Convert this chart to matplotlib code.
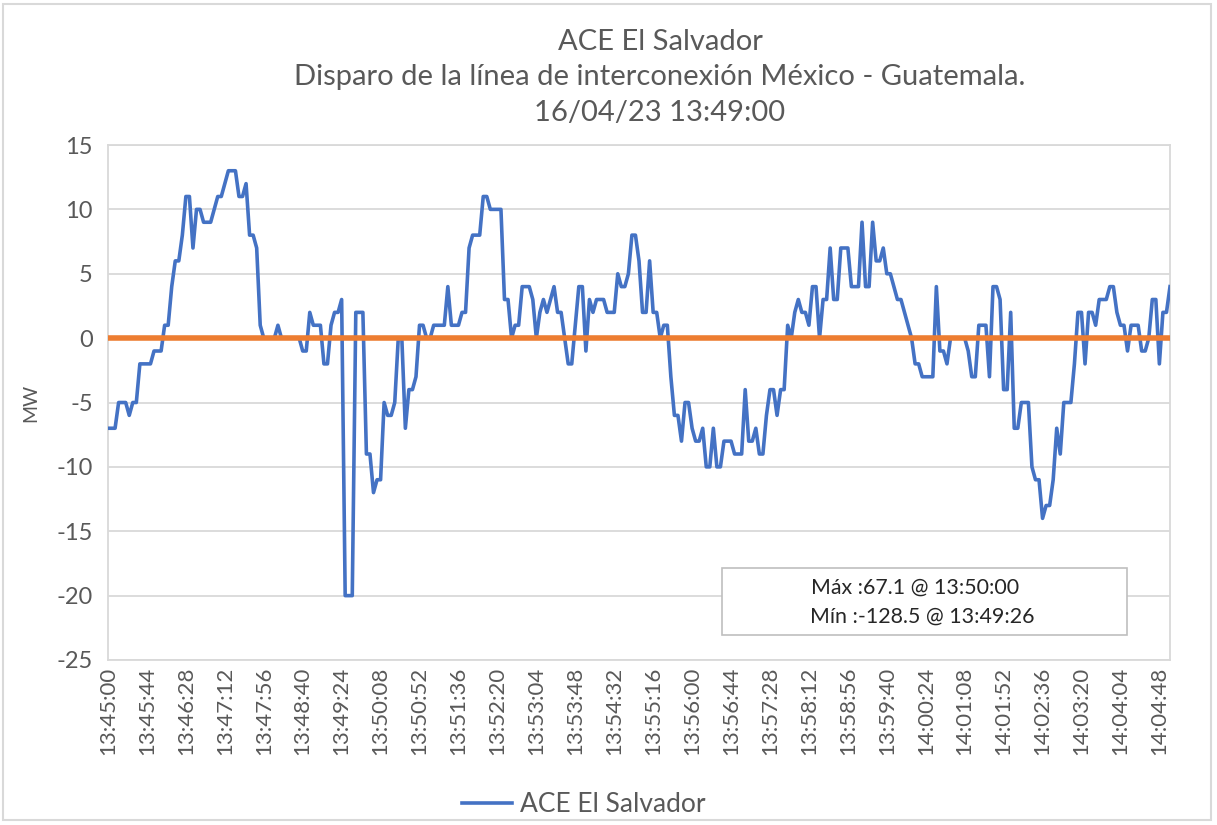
import matplotlib
matplotlib.use("Agg")
import matplotlib.pyplot as plt
from matplotlib.patches import Rectangle
import pandas as pd

plt.rcParams['font.family'] = ['Lato', 'DejaVu Sans']
plt.rcParams['axes.unicode_minus'] = False

# ---- data -------------------------------------------------------------
title_lines = ["ACE El Salvador",
               "Disparo de la línea de interconexión México - Guatemala.",
               "16/04/23 13:49:00"]
series_name = "ACE El Salvador"
y_label = "MW"
stats_text = ["Máx :67.1 @ 13:50:00", "Mín :-128.5 @ 13:49:26"]

# ACE El Salvador, MW, one sample every 4 s from 13:45:00 to 14:05:00
ace_mw = [
    -7, -7, -7, -5, -5, -5, -6, -5, -5, -2, -2, -2, -2, -1, -1, -1, 1, 1, 4, 6,
    6, 8, 11, 11, 7, 10, 10, 9, 9, 9, 10, 11, 11, 12, 13, 13, 13, 11, 11, 12,
    8, 8, 7, 1, 0, 0, 0, 0, 1, 0, 0, 0, 0, 0, 0, -1, -1, 2, 1, 1,
    1, -2, -2, 1, 2, 2, 3, -20, -20, -20, 2, 2, 2, -9, -9, -12, -11, -11, -5, -6,
    -6, -5, 0, 0, -7, -4, -4, -3, 1, 1, 0, 0, 1, 1, 1, 1, 4, 1, 1, 1,
    2, 2, 7, 8, 8, 8, 11, 11, 10, 10, 10, 10, 3, 3, 0, 1, 1, 4, 4, 4,
    3, 0, 2, 3, 2, 3, 4, 2, 2, 0, -2, -2, 1, 4, 4, -1, 3, 2, 3, 3,
    3, 2, 2, 2, 5, 4, 4, 5, 8, 8, 6, 2, 2, 6, 2, 2, 0, 1, 1, -3,
    -6, -6, -8, -5, -5, -7, -8, -8, -7, -10, -10, -7, -10, -10, -8, -8, -8, -9, -9, -9,
    -4, -8, -8, -7, -9, -9, -6, -4, -4, -6, -4, -4, 1, 0, 2, 3, 2, 2, 1, 4,
    4, 0, 3, 3, 7, 3, 3, 7, 7, 7, 4, 4, 4, 9, 4, 4, 9, 6, 6, 7,
    5, 5, 4, 3, 3, 2, 1, 0, -2, -2, -3, -3, -3, -3, 4, -1, -1, -2, 0, 0,
    0, 0, 0, -1, -3, -3, 1, 1, 1, -3, 4, 4, 3, -4, -4, 2, -7, -7, -5, -5,
    -5, -10, -11, -11, -14, -13, -13, -11, -7, -9, -5, -5, -5, -2, 2, 2, -2, 2, 2, 1,
    3, 3, 3, 4, 4, 2, 1, 1, -1, 1, 1, 1, -1, -1, 0, 3, 3, -2, 2, 2,
    4,
]
reference_mw = [0] * len(ace_mw)

tick_labels = ["13:45:00", "13:45:44", "13:46:28", "13:47:12", "13:47:56",
               "13:48:40", "13:49:24", "13:50:08", "13:50:52", "13:51:36",
               "13:52:20", "13:53:04", "13:53:48", "13:54:32", "13:55:16",
               "13:56:00", "13:56:44", "13:57:28", "13:58:12", "13:58:56",
               "13:59:40", "14:00:24", "14:01:08", "14:01:52", "14:02:36",
               "14:03:20", "14:04:04", "14:04:48"]
y_ticks = [-25, -20, -15, -10, -5, 0, 5, 10, 15]

# ---- figure -----------------------------------------------------------
W, H = 1217, 825
fig = plt.figure(figsize=(W / 100, H / 100), dpi=100)
fig.patch.set_facecolor("white")
fig.add_artist(Rectangle((3 / W, 1 - 820 / H), (1211 - 3) / W, (820 - 4) / H,
                         transform=fig.transFigure, fill=False,
                         edgecolor="#D9D9D9", lw=1.5))

L, R, T, B = 108, 1170, 145, 660
ax = fig.add_axes([L / W, 1 - B / H, (R - L) / W, (B - T) / H])

times = pd.date_range("2023-04-16 13:45:00", periods=len(ace_mw), freq="4s")
x = list(range(len(times)))
label_to_pos = {t.strftime("%H:%M:%S"): i for i, t in enumerate(times)}

ax.plot(x, ace_mw, color="#4472C4", lw=2.6, label=series_name, zorder=3,
        solid_joinstyle="round")
ax.plot(x, reference_mw, color="#ED7D31", lw=4.0, zorder=4, label="_nolegend_")

ax.set_xlim(0, len(x) - 1)
ax.set_ylim(-25, 15)
ax.set_yticks(y_ticks)
ax.set_xticks([label_to_pos[l] for l in tick_labels])
ax.set_xticklabels(tick_labels, rotation=90)
ax.tick_params(axis="both", length=0, colors="#595959")
ax.tick_params(axis="y", pad=11, labelsize=17)
ax.tick_params(axis="x", pad=5, labelsize=16)
ax.grid(axis="y", color="#D9D9D9", lw=1.3)
ax.set_axisbelow(True)
for s in ax.spines.values():
    s.set_color("#D9D9D9")
    s.set_linewidth(1.3)
ax.set_ylabel(y_label, fontsize=14, color="#595959", labelpad=12)

# title
for k, line in enumerate(title_lines):
    fig.text(660 / W, 1 - (42 + 35.5 * k) / H, line, ha="center", va="center",
             fontsize=21, color="#595959")

# stats box
bx0, by0, bx1, by1 = 722, 568, 1127, 635
fig.add_artist(Rectangle((bx0 / W, 1 - by1 / H), (bx1 - bx0) / W, (by1 - by0) / H,
                         transform=fig.transFigure, facecolor="white",
                         edgecolor="#BFBFBF", lw=1.2, zorder=5))
fig.text(915 / W, 1 - 588 / H, stats_text[0], ha="center", va="center",
         fontsize=15.4, color="#262626", zorder=6)
fig.text(922 / W, 1 - 617 / H, stats_text[1], ha="center", va="center",
         fontsize=15.4, color="#262626", zorder=6)

# legend
fig.legend(handles=[ax.lines[0]], labels=[series_name], loc="center",
           bbox_to_anchor=(584 / W, 1 - 805 / H), frameon=False,
           fontsize=19, handlelength=1.9, handletextpad=0.3,
           labelcolor="#595959")

fig.savefig("out.png", dpi=100, facecolor="white")
